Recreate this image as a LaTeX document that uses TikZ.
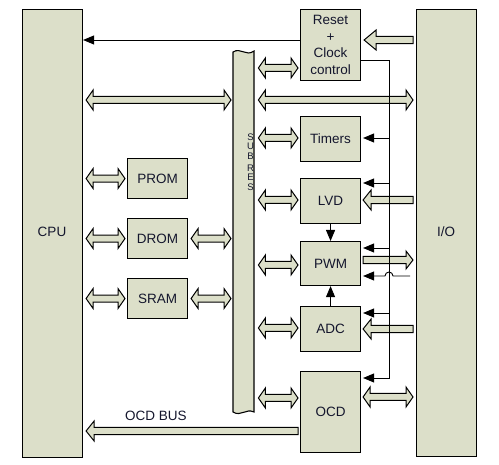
\documentclass[tikz,border=0pt]{standalone}
\usepackage{fontspec}
\setmainfont{Liberation Sans}
\usetikzlibrary{arrows.meta,calc}
\definecolor{boxfill}{RGB}{220,223,201}
\definecolor{txt}{RGB}{20,22,45}
\tikzset{
  blk/.style={draw=black, fill=boxfill, line width=1.1pt, inner sep=0pt, anchor=north west, text=txt,
    font=\fontsize{13.5}{16.5}\selectfont, align=center},
  fat/.style={draw=black, fill=boxfill, line width=1pt, line join=miter},
  thin/.style={draw=black, line width=0.9pt},
  tip/.style={-{Triangle[length=11pt,width=9pt]}},
  lbl/.style={text=txt, font=\fontsize{13.5}{16.5}\selectfont, inner sep=0pt},
}
% double fat arrow, left tip #1, right tip #2 (same height)
\newcommand\fatdbl[2]{%
  \path[fat] let \p1=(#1), \p2=(#2) in
   (\x1,\y1) -- (\x1+7pt,\y1+10pt) -- (\x1+7pt,\y1+3.5pt) -- (\x2-7pt,\y1+3.5pt)
   -- (\x2-7pt,\y1+10pt) -- (\x2,\y1) -- (\x2-7pt,\y1-10pt) -- (\x2-7pt,\y1-3.5pt)
   -- (\x1+7pt,\y1-3.5pt) -- (\x1+7pt,\y1-10pt) -- cycle;}
% single fat arrow pointing left: tip #1 (left), tail #2 (right)
\newcommand\fatleft[3][8pt]{%
  \path[fat] let \p1=(#2), \p2=(#3) in
   (\x1,\y1) -- (\x1+#1,\y1+10pt) -- (\x1+#1,\y1+3.7pt) -- (\x2,\y1+3.7pt)
   -- (\x2,\y1-3.7pt) -- (\x1+#1,\y1-3.7pt) -- (\x1+#1,\y1-10pt) -- cycle;}
% single fat arrow pointing right: tail #1 (left), tip #2 (right)
\newcommand\fatright[2]{%
  \path[fat] let \p1=(#1), \p2=(#2) in
   (\x2,\y1) -- (\x2-7pt,\y1+9pt) -- (\x2-7pt,\y1+3.7pt) -- (\x1,\y1+3.7pt)
   -- (\x1,\y1-3.7pt) -- (\x2-7pt,\y1-3.7pt) -- (\x2-7pt,\y1-9pt) -- cycle;}
\begin{document}
\begin{tikzpicture}[x=1pt,y=-1pt]
\useasboundingbox (0,0) rectangle (499,465);
% main blocks
\node[blk, minimum width=60pt, minimum height=448pt] (cpu) at (22,9) {};
\node[lbl] (cpulbl) at (52,232) {CPU};
\node[blk, minimum width=60pt, minimum height=447pt] (io) at (416,9) {};
\node[lbl] (iolbl) at (446,232) {I/O};
\node[blk, minimum width=60pt, minimum height=71pt] (reset) at (300,9) {Reset\\+\\Clock\\control};
\node[blk, minimum width=60pt, minimum height=45pt] (timers) at (300,116) {Timers};
\node[blk, minimum width=60pt, minimum height=45pt] (lvd) at (300,178) {LVD};
\node[blk, minimum width=60pt, minimum height=44pt] (pwm) at (300,241) {PWM};
\node[blk, minimum width=60pt, minimum height=45pt] (adc) at (300,306) {ADC};
\node[blk, minimum width=60pt, minimum height=81pt] (ocd) at (300,371) {OCD};
\node[blk, minimum width=60pt, minimum height=40pt] (prom) at (127,158) {PROM};
\node[blk, minimum width=60pt, minimum height=40pt] (drom) at (127,218) {DROM};
\node[blk, minimum width=60pt, minimum height=40pt] (sram) at (127,278) {SRAM};
% internal bus with wavy ends
\node[inner sep=0pt, minimum width=21pt, minimum height=361pt, anchor=north west] (bus) at (233,51) {};
\path[fill=boxfill] (233,52) .. controls (241,47) and (246,57) .. (254,51) -- (254,412)
  .. controls (246,408) and (241,417) .. (233,412) -- cycle;
\foreach \yy/\ch [count=\i] in {137/S,146.5/U,156/B,168/R,177.5/E,187/S}
  \node[text=txt, font=\fontsize{9.5}{9.5}\selectfont, inner sep=0pt] (sb\i) at (250.5,\yy) {\ch};
\path[draw=black, line width=1.1pt] (233,52) .. controls (241,47) and (246,57) .. (254,51) -- (254,412)
  .. controls (246,408) and (241,417) .. (233,412) -- cycle;
% fat arrows
\fatdbl{$(cpu.east |- 0,100)+(3,0)$}{$(bus.west |- 0,100)+(-2,0)$}
\fatdbl{$(bus.east |- 0,100)+(4,0)$}{$(io.west |- 0,100)+(-3,0)$}
\fatdbl{$(bus.east |- 0,68)+(4,0)$}{$(reset.west |- 0,68)+(-2,0)$}
\fatdbl{$(bus.east |- 0,138)+(4,0)$}{$(timers.west |- 0,138)+(-2,0)$}
\fatdbl{$(bus.east |- 0,200)+(4,0)$}{$(lvd.west |- 0,200)+(-2,0)$}
\fatdbl{$(bus.east |- 0,265)+(4,0)$}{$(pwm.west |- 0,265)+(-2,0)$}
\fatdbl{$(bus.east |- 0,328)+(4,0)$}{$(adc.west |- 0,328)+(-2,0)$}
\fatdbl{$(bus.east |- 0,398)+(4,0)$}{$(ocd.west |- 0,398)+(-2,0)$}
\fatdbl{$(cpu.east |- prom.west)+(3,0)$}{$(prom.west)+(-2,0)$}
\fatdbl{$(cpu.east |- drom.west)+(3,0)$}{$(drom.west)+(-2,0)$}
\fatdbl{$(cpu.east |- sram.west)+(3,0)$}{$(sram.west)+(-2,0)$}
\fatdbl{$(drom.east)+(3,0)$}{$(bus.west |- drom.east)+(-2,0)$}
\fatdbl{$(sram.east)+(3,0)$}{$(bus.west |- sram.east)+(-2,0)$}
\fatdbl{$(ocd.east |- 0,397)+(2,0)$}{$(io.west |- 0,397)+(-3,0)$}
\fatleft[12pt]{$(reset.east |- 0,40)+(3,0)$}{$(io.west |- 0,40)+(-3,0)$}
\fatleft{$(lvd.east |- 0,200)+(2,0)$}{$(io.west |- 0,200)+(-3,0)$}
\fatleft{$(adc.east |- 0,329)+(2,0)$}{$(io.west |- 0,329)+(-3,0)$}
\fatright{$(pwm.east |- 0,260)+(2,0)$}{$(io.west |- 0,260)+(-3,0)$}
\fatleft{$(cpu.east |- 0,431)+(3,0)$}{$(ocd.west |- 0,431)+(-2,0)$}
\node[lbl] (ocdbus) at (156,416) {OCD BUS};
% thin control lines
\coordinate (vtop) at (389,60);
\coordinate (vbot) at (389,378);
\draw[thin,tip] (reset.west |- 0,40) -- (cpu.east |- 0,40);
\draw[thin,tip] (reset.east |- vtop) -- (vtop) -- (vbot) -- ($(ocd.east |- vbot)+(2,0)$);
\draw[thin,tip] (vtop |- 0,138) -- ($(timers.east |- 0,138)+(2,0)$);
\draw[thin,tip] (vtop |- 0,183) -- ($(lvd.east |- 0,183)+(2,0)$);
\draw[thin,tip] (vtop |- 0,248) -- ($(pwm.east |- 0,248)+(2,0)$);
\draw[thin,tip] (vtop |- 0,313) -- ($(adc.east |- 0,313)+(2,0)$);
\coordinate (hopR) at (410,276);
\draw[thin,tip] (hopR) -- (393,276) arc[start angle=0, end angle=-180, radius=4]
  -- ($(pwm.east |- 0,276)+(2,0)$);
\draw[thin,tip] (lvd.south) -- (pwm.north);
\draw[thin,tip] (adc.north) -- (pwm.south);
\end{tikzpicture}
\end{document}
